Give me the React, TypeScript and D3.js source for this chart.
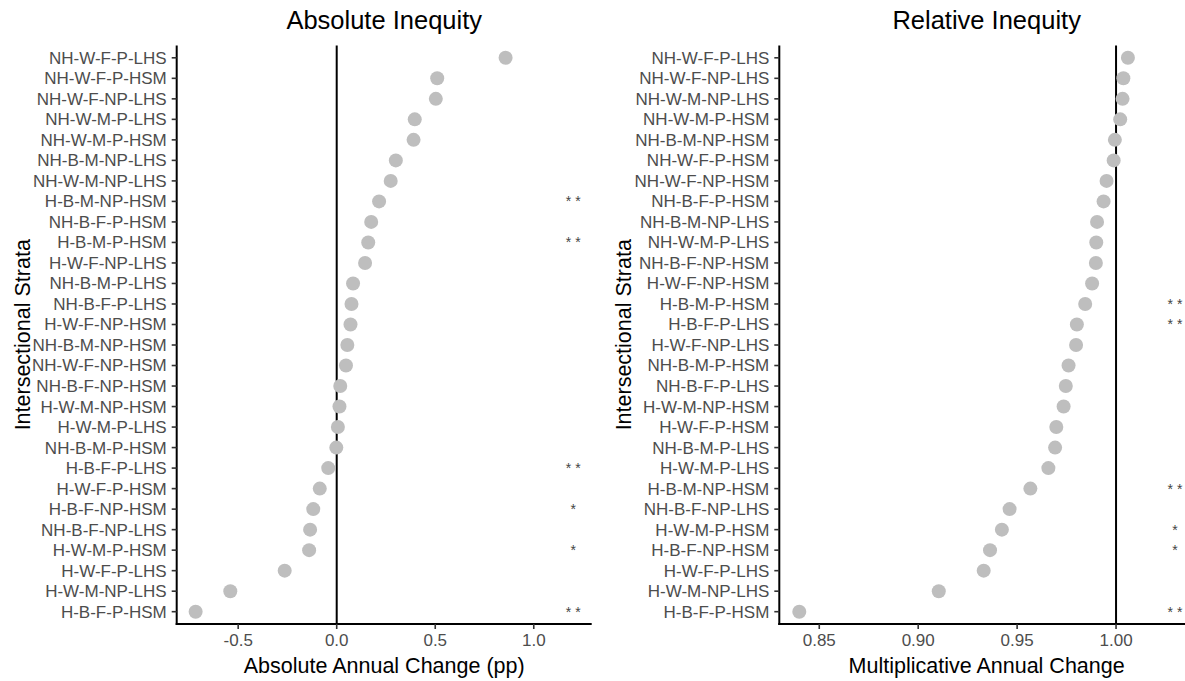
import React from "react";
import * as d3 from "d3";

// Absolute inequity: annual change in percentage points, top-to-bottom order
const absStrata = [
  "NH-W-F-P-LHS", "NH-W-F-P-HSM", "NH-W-F-NP-LHS", "NH-W-M-P-LHS", "NH-W-M-P-HSM",
  "NH-B-M-NP-LHS", "NH-W-M-NP-LHS", "H-B-M-NP-HSM", "NH-B-F-P-HSM", "H-B-M-P-HSM",
  "H-W-F-NP-LHS", "NH-B-M-P-LHS", "NH-B-F-P-LHS", "H-W-F-NP-HSM", "NH-B-M-NP-HSM",
  "NH-W-F-NP-HSM", "NH-B-F-NP-HSM", "H-W-M-NP-HSM", "H-W-M-P-LHS", "NH-B-M-P-HSM",
  "H-B-F-P-LHS", "H-W-F-P-HSM", "H-B-F-NP-HSM", "NH-B-F-NP-LHS", "H-W-M-P-HSM",
  "H-W-F-P-LHS", "H-W-M-NP-LHS", "H-B-F-P-HSM",
];
const absValues = [
  0.857, 0.51, 0.503, 0.396, 0.39,
  0.3, 0.274, 0.215, 0.175, 0.16,
  0.144, 0.083, 0.075, 0.07, 0.054,
  0.047, 0.018, 0.014, 0.006, -0.002,
  -0.043, -0.086, -0.119, -0.135, -0.14,
  -0.264, -0.54, -0.716,
];
const absStars = [
  "", "", "", "", "", "", "", "**", "", "**",
  "", "", "", "", "", "", "", "", "", "",
  "**", "", "*", "", "*", "", "", "**",
];
const absTicks = [-0.5, 0, 0.5, 1.0];

// Relative inequity: multiplicative annual change, top-to-bottom order
const relStrata = [
  "NH-W-F-P-LHS", "NH-W-F-NP-LHS", "NH-W-M-NP-LHS", "NH-W-M-P-HSM", "NH-B-M-NP-HSM",
  "NH-W-F-P-HSM", "NH-W-F-NP-HSM", "NH-B-F-P-HSM", "NH-B-M-NP-LHS", "NH-W-M-P-LHS",
  "NH-B-F-NP-HSM", "H-W-F-NP-HSM", "H-B-M-P-HSM", "H-B-F-P-LHS", "H-W-F-NP-LHS",
  "NH-B-M-P-HSM", "NH-B-F-P-LHS", "H-W-M-NP-HSM", "H-W-F-P-HSM", "NH-B-M-P-LHS",
  "H-W-M-P-LHS", "H-B-M-NP-HSM", "NH-B-F-NP-LHS", "H-W-M-P-HSM", "H-B-F-NP-HSM",
  "H-W-F-P-LHS", "H-W-M-NP-LHS", "H-B-F-P-HSM",
];
const relValues = [
  1.006, 1.0037, 1.0033, 1.0021, 0.9994,
  0.9988, 0.9952, 0.9937, 0.9904, 0.99,
  0.9898, 0.9879, 0.9844, 0.9802, 0.9798,
  0.976, 0.9746, 0.9735, 0.9698, 0.9692,
  0.9658, 0.9567, 0.9462, 0.9423, 0.9363,
  0.9331, 0.9104, 0.8399,
];
const relStars = [
  "", "", "", "", "", "", "", "", "", "",
  "", "", "**", "**", "", "", "", "", "", "",
  "", "**", "", "*", "*", "", "", "**",
];
const relTicks = [0.85, 0.9, 0.95, 1.0];

const FONT = "'Liberation Sans', Arial, Helvetica, sans-serif";
const PANEL_TOP = 45.5;
const PANEL_BOTTOM = 624;

const hyphenMinus = (fmt: (v: number) => string) => (v: number) => fmt(v).replace("\u2212", "-");

type PanelProps = {
  title: string;
  xTitle: string;
  strata: string[];
  values: number[];
  stars: string[];
  starAt: number;
  ticks: number[];
  tickFmt: (v: number) => string;
  domain: [number, number];
  refValue: number;
  left: number;
  right: number;
  yTitleX: number;
};

function Panel(p: PanelProps) {
  const x = d3.scaleLinear().domain(p.domain).range([p.left, p.right]);
  const y = d3.scalePoint<string>().domain(p.strata).range([PANEL_TOP, PANEL_BOTTOM]).padding(0.6);
  const cx = (p.left + p.right) / 2;
  const cy = (PANEL_TOP + PANEL_BOTTOM) / 2;
  return (
    <g>
      <text x={cx} y={29} textAnchor="middle" fontSize={25.5} fill="#000">{p.title}</text>
      {/* reference line */}
      <line x1={x(p.refValue)} x2={x(p.refValue)} y1={PANEL_TOP} y2={PANEL_BOTTOM} stroke="#000" strokeWidth={2} />
      {/* points */}
      {p.strata.map((s, i) => (
        <circle key={s} cx={x(p.values[i])} cy={y(s)!} r={7} fill="#BEBEBE" />
      ))}
      {/* significance markers: each asterisk placed separately for even spacing */}
      {p.strata.map((s, i) =>
        p.stars[i]
          ? p.stars[i].split("").map((c, k, arr) => (
              <text key={`st${s}${k}`} x={x(p.starAt) + (k - (arr.length - 1) / 2) * 9.4}
                y={(y(s) as number) + 5} textAnchor="middle" fontSize={14} fill="#444">{c}</text>
            ))
          : null
      )}
      {/* y axis */}
      <line x1={p.left} x2={p.left} y1={PANEL_TOP} y2={PANEL_BOTTOM + 1} stroke="#000" strokeWidth={2} />
      {p.strata.map((s) => (
        <g key={"yt" + s} transform={`translate(0,${y(s)})`}>
          <line x1={p.left - 5} x2={p.left} stroke="#333" strokeWidth={1.6} />
          <text x={p.left - 10} dy="0.35em" textAnchor="end" fontSize={17} fill="#4D4D4D">{s}</text>
        </g>
      ))}
      {/* x axis */}
      <line x1={p.left - 1} x2={p.right} y1={PANEL_BOTTOM} y2={PANEL_BOTTOM} stroke="#000" strokeWidth={2} />
      {p.ticks.map((t) => (
        <g key={"xt" + t} transform={`translate(${x(t)},0)`}>
          <line y1={PANEL_BOTTOM} y2={PANEL_BOTTOM + 5} stroke="#333" strokeWidth={1.6} />
          <text y={646} textAnchor="middle" fontSize={17} fill="#4D4D4D">{p.tickFmt(t)}</text>
        </g>
      ))}
      <text x={cx} y={673} textAnchor="middle" fontSize={21.5} fill="#000">{p.xTitle}</text>
      <text transform={`translate(${p.yTitleX},${cy}) rotate(-90)`} textAnchor="middle" fontSize={21.5} fill="#000">
        Intersectional Strata
      </text>
    </g>
  );
}

export default function App() {
  return (
    <svg width={1185} height={681} style={{ position: "absolute", left: 0, top: 0, background: "#fff" }}
      fontFamily={FONT}>
      <rect width={1185} height={681} fill="#fff" />
      <Panel
        title="Absolute Inequity"
        xTitle="Absolute Annual Change (pp)"
        strata={absStrata}
        values={absValues}
        stars={absStars}
        starAt={1.2}
        ticks={absTicks}
        tickFmt={hyphenMinus(d3.format(".1f"))}
        domain={[-0.812, 1.294]}
        refValue={0}
        left={176.7}
        right={591.7}
        yTitleX={30}
      />
      <Panel
        title="Relative Inequity"
        xTitle="Multiplicative Annual Change"
        strata={relStrata}
        values={relValues}
        stars={relStars}
        starAt={1.0298}
        ticks={relTicks}
        tickFmt={d3.format(".2f")}
        domain={[0.8298, 1.0394]}
        refValue={1}
        left={779.3}
        right={1194}
        yTitleX={631}
      />
    </svg>
  );
}
